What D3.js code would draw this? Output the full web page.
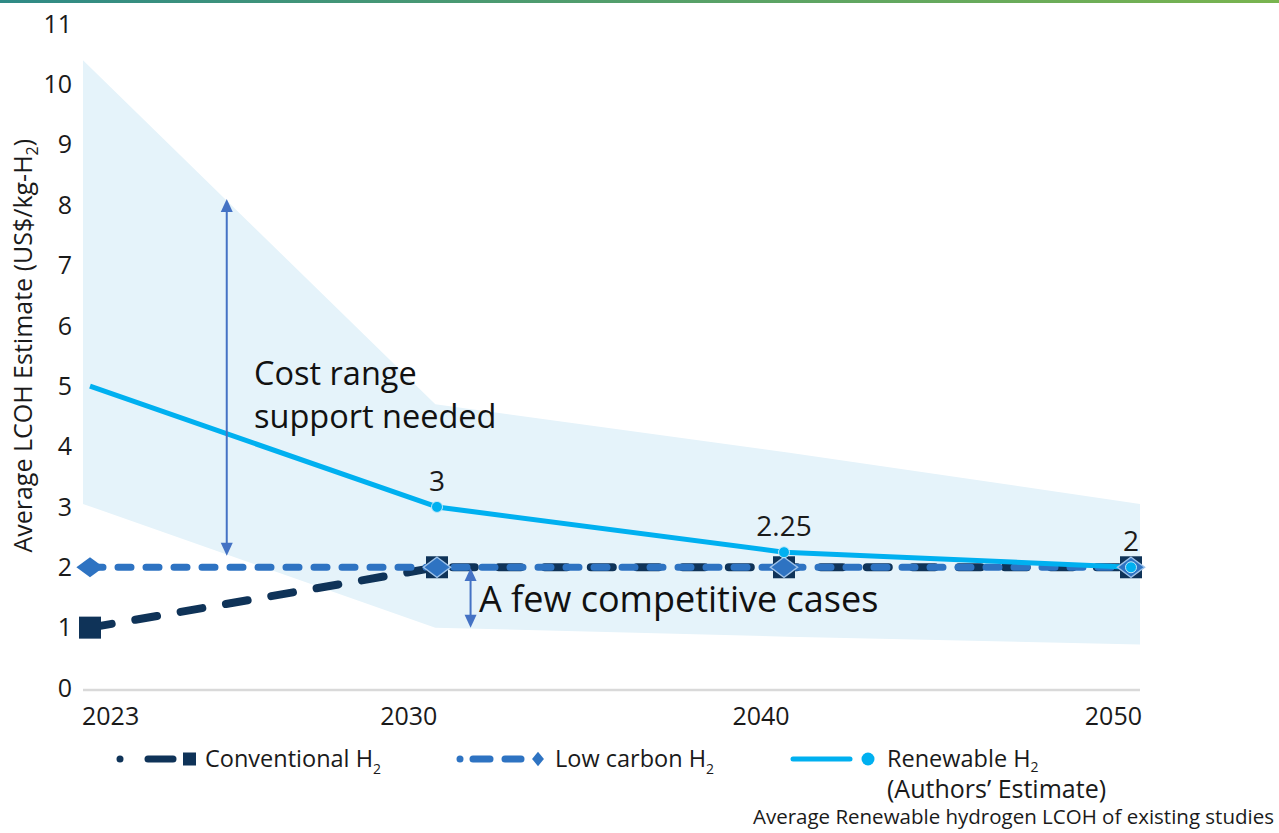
<!DOCTYPE html>
<html>
<head>
<meta charset="utf-8">
<script src="https://cdn.jsdelivr.net/npm/d3@7"></script>
<style>
  body { margin: 0; background: #fff; }
  svg { display: block; font-family: "Open Sans", "Noto Sans", sans-serif; }
</style>
</head>
<body>
<div id="chart"></div>
<script>
// chart data
const years = ["2023", "2030", "2040", "2050"];
const conventional = [1, 2, 2, 2];
const lowCarbon = [2, 2, 2, 2];
const renewable = [5, 3, 2.25, 2];
const renewableLabels = [null, "3", "2.25", "2"];
const rangeHigh = [10.4, 4.7, 3.9, 3.05];
const rangeLow = [3.05, 1.0, 0.85, 0.72];
const yTicks = [0, 1, 2, 3, 4, 5, 6, 7, 8, 9, 10, 11];

const width = 1279, height = 833;
const textColor = "#1a1a1a";
const navy = "#0f3358", midBlue = "#2e73c2", cyan = "#00b0f0";

const svg = d3.select("#chart").append("svg")
    .attr("width", width)
    .attr("height", height);

// thin gradient strip at the very top
const defs = svg.append("defs");
const grad = defs.append("linearGradient").attr("id", "topbar");
grad.append("stop").attr("offset", "0%").attr("stop-color", "#2f8a86");
grad.append("stop").attr("offset", "100%").attr("stop-color", "#79b44f");
svg.append("rect").attr("x", 0).attr("y", 0).attr("width", width).attr("height", 3)
    .attr("fill", "url(#topbar)");

// scales: the shaded range spans the full axis, lines are inset a little
const xBand = d3.scaleLinear().domain([0, years.length - 1]).range([83, 1140]);
const xLine = d3.scaleLinear().domain([0, years.length - 1]).range([90, 1131]);
const y = d3.scaleLinear().domain([0, 11]).range([688, 24]);

// range band
const area = d3.area()
    .x((d, i) => xBand(i))
    .y0((d, i) => y(rangeLow[i]))
    .y1((d, i) => y(rangeHigh[i]));
svg.append("path").datum(rangeHigh).attr("d", area).attr("fill", "#e5f3fa");

// x axis line
svg.append("line")
    .attr("x1", xBand(0)).attr("x2", xBand(years.length - 1))
    .attr("y1", y(0) + 2).attr("y2", y(0) + 2)
    .attr("stroke", "#d9d9d9").attr("stroke-width", 2.5);

// x labels
svg.append("g").selectAll("text").data(years).join("text")
    .attr("x", (d, i) => i === 0 ? xBand(i) - 1 : xBand(i) + 2)
    .attr("y", 725)
    .attr("text-anchor", (d, i) => i === 0 ? "start" : "end")
    .attr("font-size", 25).attr("fill", textColor)
    .text(d => d);

// y labels
svg.append("g").selectAll("text").data(yTicks).join("text")
    .attr("x", 72).attr("y", d => y(d))
    .attr("dy", "0.35em")
    .attr("text-anchor", "end")
    .attr("font-size", 25).attr("fill", textColor)
    .text(d => d);

// y axis title
const yTitle = svg.append("text")
    .attr("transform", `translate(32, ${y(5.67)}) rotate(-90)`)
    .attr("text-anchor", "middle")
    .attr("font-size", 25).attr("fill", textColor);
yTitle.append("tspan").text("Average LCOH Estimate (US$/kg-H");
yTitle.append("tspan").attr("font-size", 16).attr("dy", 6).text("2");
yTitle.append("tspan").attr("dy", -6).text(")");

const line = d3.line().x((d, i) => xLine(i)).y(d => y(d));

// conventional
svg.append("path").datum(conventional).attr("d", line)
    .attr("fill", "none").attr("stroke", navy).attr("stroke-width", 8)
    .attr("stroke-dasharray", "22,24").attr("stroke-linecap", "round");

// low carbon
svg.append("path").datum(lowCarbon).attr("d", line)
    .attr("fill", "none").attr("stroke", midBlue).attr("stroke-width", 7)
    .attr("stroke-dasharray", "13,15").attr("stroke-linecap", "round");

// renewable
svg.append("path").datum(renewable).attr("d", line)
    .attr("fill", "none").attr("stroke", cyan).attr("stroke-width", 5)
    .attr("stroke-linejoin", "round");

// markers
svg.append("g").selectAll("rect").data(conventional).join("rect")
    .attr("x", (d, i) => xLine(i) - 11).attr("y", d => y(d) - 11)
    .attr("width", 22).attr("height", 22)
    .attr("fill", navy);

svg.append("g").selectAll("path").data(lowCarbon).join("path")
    .attr("d", d3.symbol(d3.symbolDiamond2, 260))
    .attr("transform", (d, i) => `translate(${xLine(i)},${y(d)}) scale(1.35,1)`)
    .attr("fill", midBlue)
    .attr("stroke", (d, i) => i === 0 ? "none" : "#9ec3ea").attr("stroke-width", 1.2);

svg.append("g").selectAll("circle").data(renewable).join("circle")
    .attr("cx", (d, i) => xLine(i)).attr("cy", d => y(d))
    .attr("r", (d, i) => i === 0 ? 0 : 5.5)
    .attr("fill", cyan)
    .attr("stroke", "#bfe9fb").attr("stroke-width", 1);

// data labels on the renewable line
svg.append("g").selectAll("text").data(renewable).join("text")
    .attr("x", (d, i) => xLine(i)).attr("y", d => y(d) - 16)
    .attr("text-anchor", "middle")
    .attr("font-size", 28).attr("fill", textColor)
    .text((d, i) => renewableLabels[i] || "");

// annotation arrows
const arrowColor = "#4472c4";
function vArrow(xIdx, v1, v2) {
    const x = xBand(xIdx), top = y(v1), bot = y(v2);
    svg.append("line").attr("x1", x).attr("x2", x)
        .attr("y1", top + 8).attr("y2", bot - 8)
        .attr("stroke", arrowColor).attr("stroke-width", 2);
    svg.append("path")
        .attr("d", `M${x},${top} L${x - 6},${top + 13} L${x + 6},${top + 13} Z`)
        .attr("fill", arrowColor);
    svg.append("path")
        .attr("d", `M${x},${bot} L${x - 6},${bot - 13} L${x + 6},${bot - 13} Z`)
        .attr("fill", arrowColor);
}
vArrow(0.408, 8.1, 2.19);
vArrow(1.1, 1.99, 1.0);

svg.append("text").attr("x", 254).attr("y", 385)
    .attr("font-size", 32.5).attr("fill", "#111").text("Cost range");
svg.append("text").attr("x", 254).attr("y", 428)
    .attr("font-size", 32.5).attr("fill", "#111").text("support needed");
svg.append("text").attr("x", 479).attr("y", 612)
    .attr("font-size", 36).attr("fill", "#111").text("A few competitive cases");

// legend
const lg = svg.append("g");
const ly = 759;
// conventional
lg.append("circle").attr("cx", 120).attr("cy", ly).attr("r", 3.5).attr("fill", navy);
lg.append("line").attr("x1", 148).attr("x2", 173).attr("y1", ly).attr("y2", ly)
    .attr("stroke", navy).attr("stroke-width", 7).attr("stroke-linecap", "round");
lg.append("rect").attr("x", 183).attr("y", ly - 6.5).attr("width", 13).attr("height", 13).attr("fill", navy);
const t1 = lg.append("text").attr("x", 205).attr("y", ly + 8).attr("font-size", 23.5).attr("fill", textColor);
t1.append("tspan").text("Conventional H");
t1.append("tspan").attr("font-size", 14).attr("dy", 7).text("2");
// low carbon
lg.append("circle").attr("cx", 460).attr("cy", ly).attr("r", 3.5).attr("fill", midBlue);
lg.append("line").attr("x1", 473).attr("x2", 490).attr("y1", ly).attr("y2", ly)
    .attr("stroke", midBlue).attr("stroke-width", 7).attr("stroke-linecap", "round");
lg.append("line").attr("x1", 505).attr("x2", 521).attr("y1", ly).attr("y2", ly)
    .attr("stroke", midBlue).attr("stroke-width", 7).attr("stroke-linecap", "round");
lg.append("path").attr("d", d3.symbol(d3.symbolDiamond2, 90))
    .attr("transform", `translate(538,${ly}) scale(1,1.2)`).attr("fill", midBlue);
const t2 = lg.append("text").attr("x", 555).attr("y", ly + 8).attr("font-size", 23.5).attr("fill", textColor);
t2.append("tspan").text("Low carbon H");
t2.append("tspan").attr("font-size", 14).attr("dy", 7).text("2");
// renewable
lg.append("line").attr("x1", 793).attr("x2", 850).attr("y1", ly).attr("y2", ly)
    .attr("stroke", cyan).attr("stroke-width", 5).attr("stroke-linecap", "round");
lg.append("circle").attr("cx", 868).attr("cy", ly).attr("r", 6.5).attr("fill", cyan);
const t3 = lg.append("text").attr("x", 887).attr("y", ly + 8).attr("font-size", 23.5).attr("fill", textColor);
t3.append("tspan").text("Renewable H");
t3.append("tspan").attr("font-size", 14).attr("dy", 5).text("2");
lg.append("text").attr("x", 887).attr("y", ly + 39).attr("font-size", 25).attr("fill", textColor)
    .text("(Authors\u2019 Estimate)");

svg.append("text").attr("x", 1274).attr("y", 824).attr("text-anchor", "end")
    .attr("font-size", 20.5).attr("fill", textColor)
    .text("Average Renewable hydrogen LCOH of existing studies");
</script>
</body>
</html>
